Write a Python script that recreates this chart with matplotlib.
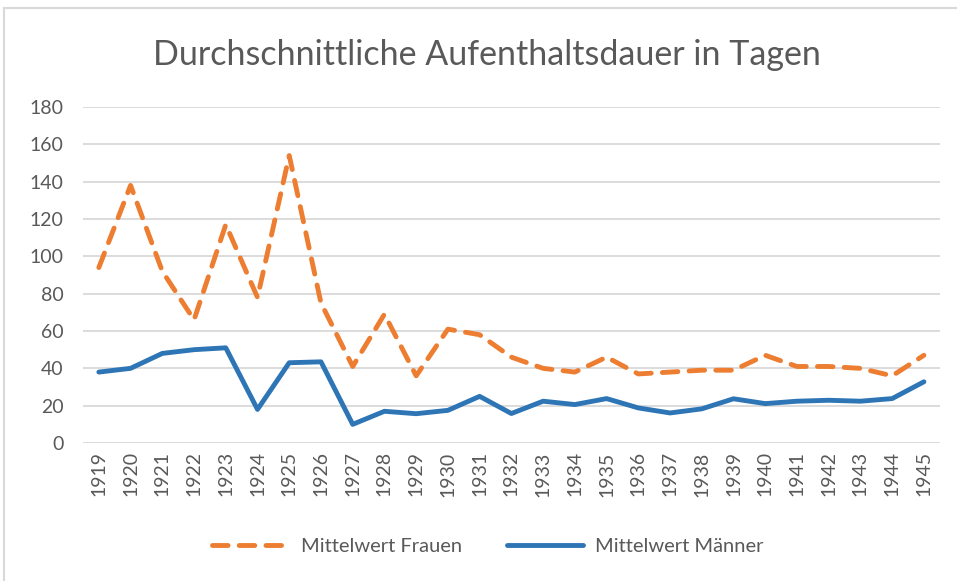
import matplotlib
matplotlib.use("Agg")
import matplotlib.pyplot as plt
from matplotlib.patches import Rectangle

# Daten
jahre = [str(j) for j in range(1919, 1946)]
frauen = [94, 138, 92, 66, 117, 78, 154, 75, 41, 69, 36, 61, 58,
          46, 40, 38, 46, 37, 38, 39, 39, 47, 41, 41, 40, 36, 47]
maenner = [38, 40, 48, 50, 51, 18, 43, 43.5, 10, 17, 15.7, 17.5, 25,
           15.8, 22.4, 20.6, 23.8, 18.8, 16.1, 18.3, 23.7, 21.1, 22.4, 22.9, 22.4, 23.8, 32.8]

grau = "#595959"
plt.rcParams["font.family"] = ["Lato", "DejaVu Sans"]

fig = plt.figure(figsize=(9.57, 5.81), dpi=100)
ax = fig.add_axes([0.0867, 0.2375, 0.8953, 0.5783])

x = range(len(jahre))
ax.plot(x, frauen, color="#ED7D31", lw=3.5, dashes=(3.2, 2.3),
        dash_capstyle="round", solid_capstyle="round", label="Mittelwert Frauen")
ax.plot(x, maenner, color="#2E75B6", lw=3.5, solid_capstyle="round",
        solid_joinstyle="round", label="Mittelwert Männer")

ax.set_xlim(-0.5, len(jahre) - 0.5)
ax.set_ylim(0, 180)
ax.set_yticks(range(0, 181, 20))
ax.set_xticks(list(x))
ax.set_xticklabels(jahre, rotation=90)
ax.grid(axis="y", color="#D9D9D9", lw=1.3)
ax.set_axisbelow(True)
for s in ax.spines.values():
    s.set_visible(False)
ax.tick_params(axis="both", length=0, labelcolor=grau, labelsize=14)
ax.tick_params(axis="y", pad=14)
ax.tick_params(axis="x", pad=6)

fig.text(0.509, 0.905, "Durchschnittliche Aufenthaltsdauer in Tagen",
         ha="center", va="center", fontsize=24.5, color=grau)

fig.legend(loc="center", bbox_to_anchor=(0.51, 0.059), ncol=2, frameon=False,
           fontsize=14.5, labelcolor=grau, handlelength=3.8, columnspacing=2.2,
           handletextpad=0.6)

# Rahmen des Diagrammbereichs
fig.patches.append(Rectangle((4 / 957, -0.1), 1.2, 1 - 8 / 581 + 0.1,
                             transform=fig.transFigure, fill=False,
                             edgecolor="#D9D9D9", lw=1.5))

plt.savefig("out.png", dpi=100)
